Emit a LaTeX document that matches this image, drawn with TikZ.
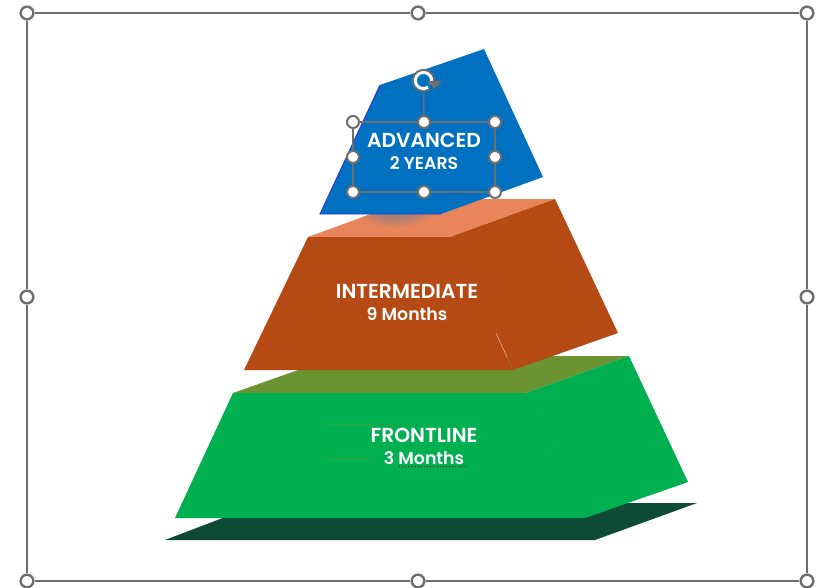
\documentclass[tikz,border=0pt]{standalone}
\usepackage{fontspec}
\setmainfont{Poppins}[BoldFont={Poppins SemiBold}]
\definecolor{bluef}{HTML}{0070C0}
\definecolor{blueedge}{HTML}{2A35E0}
\definecolor{bluein}{HTML}{1F5FD0}
\definecolor{orangetop}{HTML}{E8855A}
\definecolor{brownf}{HTML}{B54A15}
\definecolor{olivef}{HTML}{6B9331}
\definecolor{greenf}{HTML}{00AF50}
\definecolor{darkgreen}{HTML}{0F4A37}
\definecolor{handle}{HTML}{6E6E6E}
\tikzset{
  face/.style={line join=round},
  framel/.style={draw=handle,line width=1.4pt},
  boxl/.style={draw=handle,line width=1.1pt},
  outerh/.style={circle,draw=handle,fill=white,line width=1.8pt,inner sep=0pt,minimum size=9.5pt},
  innerh/.style={circle,draw=handle,fill=white,line width=1.5pt,inner sep=0pt,minimum size=9pt},
  title/.style={text=white,font=\fontsize{15.2pt}{17pt}\selectfont\bfseries,inner sep=0pt,anchor=center},
  sub/.style={text=white,font=\fontsize{13pt}{15pt}\selectfont\bfseries,inner sep=0pt,anchor=center},
}
\begin{document}
\begin{tikzpicture}[x=0.75pt,y=-0.75pt]
\useasboundingbox (0,0) rectangle (820,588);
\fill[white] (0,0) rectangle (820,588);
% shadow plane
\fill[darkgreen] (165,540) -- (595,540) -- (697,503) -- (262,503) -- cycle;
% frontline
\fill[olivef] (233,393) -- (526,393) -- (629,356) -- (338,356) -- cycle;
\fill[greenf,face] (233,393) -- (526,393) -- (629,356) -- (688,482) -- (585,518) -- (175,518) -- cycle;
\draw[olivef!25!greenf,line width=0.3pt] (526,393) -- (585,518);
\draw[olivef!50!greenf,line width=0.4pt] (325,425) -- (400,425);
\draw[olivef!50!greenf,line width=0.4pt] (328,459) -- (372,459);
% intermediate
\fill[orangetop] (308,237) -- (450,237) -- (555,199) -- (412,199) -- cycle;
\begin{scope}
\clip (308,237) -- (450,237) -- (555,199) -- (412,199) -- cycle;
\shade[inner color=bluef!45!orangetop,outer color=orangetop] (395,210) ellipse (40 and 18);
\end{scope}
\fill[brownf,face] (308,237) -- (450,237) -- (555,199) -- (618,333) -- (513,370) -- (244,370) -- cycle;
\draw[orangetop!60!white,line width=0.4pt] (496,333) -- (507,357);
\draw[olivef!70!brownf,line width=0.4pt] (507,357) -- (513,370);
% advanced
\fill[bluef,face] (380,85) -- (484,49) -- (543,177) -- (441,214) -- (320,214) -- cycle;
\draw[blueedge,line width=0.7pt] (380,85) -- (320,214) -- (441,214);
\draw[bluein,line width=0.4pt] (380,85) -- (412,157);
% labels
\node[title] (advT) at (424,140) {ADVANCED};
\node[sub] (advS) at (424,163) {2 YEARS};
\node[title] (intT) at (407,291) {INTERMEDIATE};
\node[sub] (intS) at (407,314) {9 Months};
\node[title] (froT) at (424,435) {FRONTLINE};
\node[sub] (froS) at (424,458) {3 Months};
\draw[red!70!black,line width=0.35pt,dotted] (399,466.5) -- (465,466.5);
% selection frame
\node[outerh] (o1) at (27,13) {};
\node[outerh] (o2) at (418,13) {};
\node[outerh] (o3) at (807,13) {};
\node[outerh] (o4) at (807,297) {};
\node[outerh] (o5) at (807,581) {};
\node[outerh] (o6) at (418,581) {};
\node[outerh] (o7) at (27,581) {};
\node[outerh] (o8) at (27,297) {};
\draw[framel] (o1) -- (o2); \draw[framel] (o2) -- (o3);
\draw[framel] (o3) -- (o4); \draw[framel] (o4) -- (o5);
\draw[framel] (o5) -- (o6); \draw[framel] (o6) -- (o7);
\draw[framel] (o7) -- (o8); \draw[framel] (o8) -- (o1);
% text box
\node[innerh] (b1) at (353,122) {};
\node[innerh] (b2) at (424,122) {};
\node[innerh] (b3) at (495,122) {};
\node[innerh] (b4) at (495,157) {};
\node[innerh] (b5) at (495,192) {};
\node[innerh] (b6) at (424,192) {};
\node[innerh] (b7) at (353,192) {};
\node[innerh] (b8) at (353,157) {};
\draw[boxl] (b1) -- (b2); \draw[boxl] (b2) -- (b3);
\draw[boxl] (b3) -- (b4); \draw[boxl] (b4) -- (b5);
\draw[boxl] (b5) -- (b6); \draw[boxl] (b6) -- (b7);
\draw[boxl] (b7) -- (b8); \draw[boxl] (b8) -- (b1);
% rotate handle
\coordinate (rot) at (423.5,80.5);
\draw[boxl] (423.5,93) -- (b2);
\draw[handle,line width=1.9pt] (432.5,85.5) arc (29:-305:10.3);
\draw[white,line width=2.2pt] (430.6,84.5) arc (29:-305:8.1);
\fill[handle] (427,81) -- (442,81) -- (434.5,89) -- cycle;
\end{tikzpicture}
\end{document}
